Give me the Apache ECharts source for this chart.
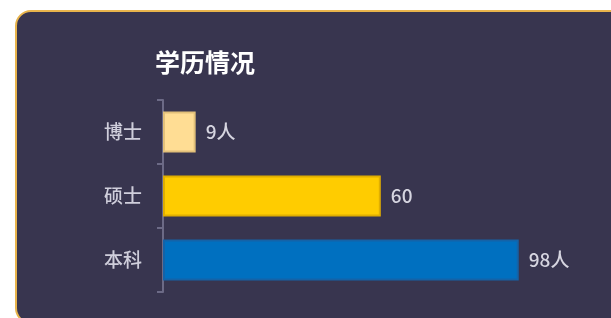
<!DOCTYPE html>
<html>
<head>
<meta charset="utf-8">
<script src="https://cdn.jsdelivr.net/npm/echarts@6/dist/echarts.min.js"></script>
<style>
html,body{margin:0;padding:0;background:#ffffff;}
#chart{width:611px;height:318px;}
</style>
</head>
<body>
<div id="chart"></div>
<script>
const titleText = '学历情况';
const categories = ['本科', '硕士', '博士'];
const values = [98, 60, 9];
const labelSuffix = ['人', '', '人'];
const barColors = ['#0070c0', '#ffcc00', '#ffdd94'];
const barBorders = ['#1463a8', '#e0ae00', '#e2c07a'];

const chart = echarts.init(document.getElementById('chart'), null, {renderer: 'canvas'});
const labelFont = '"Noto Sans CJK SC", "Noto Sans", sans-serif';

chart.setOption({
  animation: false,
  backgroundColor: '#ffffff',
  graphic: [{
    type: 'rect',
    z: -10,
    silent: true,
    shape: {x: 16, y: 11, width: 640, height: 312, r: 15},
    style: {fill: '#38354f', stroke: '#e8b44c', lineWidth: 2}
  }],
  title: {
    text: titleText,
    left: 150,
    top: 45,
    textStyle: {color: '#ffffff', fontSize: 25, fontWeight: 'bold', fontFamily: labelFont}
  },
  grid: {left: 163, right: 85, top: 100, bottom: 26, containLabel: false},
  xAxis: {
    type: 'value',
    min: 0,
    max: 100,
    show: false
  },
  yAxis: {
    type: 'category',
    data: categories,
    axisLine: {show: true, lineStyle: {color: '#6c6a86', width: 2}},
    axisTick: {show: true, length: 6, lineStyle: {color: '#6c6a86', width: 2}},
    axisLabel: {color: '#cfcedb', fontSize: 19, fontWeight: 500, margin: 21, fontFamily: labelFont},
    splitLine: {show: false}
  },
  series: [{
    type: 'bar',
    barWidth: 41,
    data: values.map((v, i) => ({
      value: v,
      itemStyle: {color: barColors[i], borderColor: barBorders[i], borderWidth: 2},
      label: {formatter: v + labelSuffix[i]}
    })),
    label: {
      show: true,
      position: 'right',
      distance: 10,
      color: '#d6d5e0',
      fontSize: 19,
      fontWeight: 500,
      fontFamily: labelFont
    }
  }]
});
</script>
</body>
</html>
